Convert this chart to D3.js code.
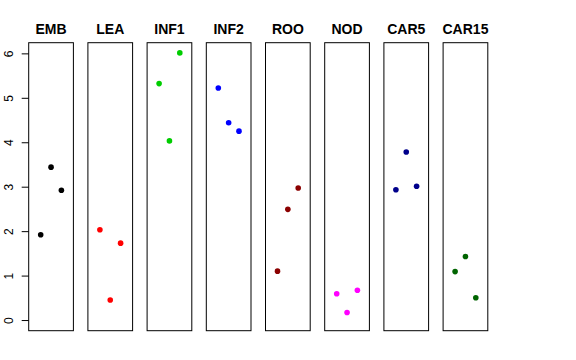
<!DOCTYPE html>
<html>
<head>
<meta charset="utf-8">
<script src="https://cdn.jsdelivr.net/npm/d3@7"></script>
<style>
  body { margin: 0; background: #fff; }
  svg { display: block; font-family: "Liberation Sans", Arial, sans-serif; }
</style>
</head>
<body>
<div id="chart"></div>
<script>
const categories = ["EMB", "LEA", "INF1", "INF2", "ROO", "NOD", "CAR5", "CAR15"];
const colors = ["#000000", "#FF0000", "#00CD00", "#0000FF", "#8B0000", "#FF00FF", "#00008B", "#006400"];
// one value per replicate (x = 1, 2, 3) for each category
const rep1 = [1.92, 2.03, 5.32, 5.22, 1.10, 0.59, 2.93, 1.09];
const rep2 = [3.44, 0.45, 4.03, 4.44, 2.49, 0.17, 3.78, 1.43];
const rep3 = [2.92, 1.73, 6.01, 4.25, 2.97, 0.67, 3.01, 0.50];
const yTicks = [0, 1, 2, 3, 4, 5, 6];

const width = 576, height = 360;
const plotTop = 42.7, plotBottom = 330.7;

const svg = d3.select('#chart')
    .append('svg')
    .attr('width', width)
    .attr('height', height);

const panel = d3.scaleBand()
    .domain(categories)
    .range([28.7, 487.8])
    .paddingInner(0.245)
    .paddingOuter(0);

const bw = panel.bandwidth();

const x = d3.scaleLinear().domain([-0.16, 4.16]).range([0, bw]);
const y = d3.scaleLinear().domain([-0.24, 6.24]).range([plotBottom, plotTop]);

const rows = categories.map((c, i) => ({
    name: c,
    color: colors[i],
    pts: [rep1[i], rep2[i], rep3[i]].map((v, j) => ({ x: j + 1, v: v }))
}));

const panels = svg.selectAll('.panel')
    .data(rows)
    .enter()
    .append('g')
    .attr('class', 'panel')
    .attr('transform', d => `translate(${panel(d.name)},0)`);

panels.append('rect')
    .attr('x', 0)
    .attr('y', plotTop)
    .attr('width', bw)
    .attr('height', plotBottom - plotTop)
    .attr('fill', 'none')
    .attr('stroke', '#000')
    .attr('stroke-width', 1);

panels.append('text')
    .attr('x', bw / 2)
    .attr('y', 34)
    .attr('text-anchor', 'middle')
    .attr('font-size', 14)
    .attr('font-weight', 'bold')
    .text(d => d.name);

panels.selectAll('circle')
    .data(d => d.pts.map(p => ({ ...p, color: d.color })))
    .enter()
    .append('circle')
    .attr('cx', d => x(d.x))
    .attr('cy', d => y(d.v))
    .attr('r', 2.8)
    .attr('fill', d => d.color);

// y axis, labels turned like R's default
const axis = svg.append('g')
    .attr('transform', `translate(${panel(categories[0])},0)`)
    .call(d3.axisLeft(y).tickValues(yTicks).tickFormat(d3.format('d')).tickSize(7).tickSizeOuter(0));

axis.select('.domain').remove();
axis.selectAll('line').attr('stroke', '#000');
axis.selectAll('text')
    .attr('x', 0)
    .attr('y', -16)
    .attr('dy', 0)
    .attr('transform', 'rotate(-90)')
    .attr('text-anchor', 'middle')
    .attr('font-size', 12)
    .attr('font-family', '"Liberation Sans", Arial, sans-serif')
    .attr('fill', '#000');
</script>
</body>
</html>
